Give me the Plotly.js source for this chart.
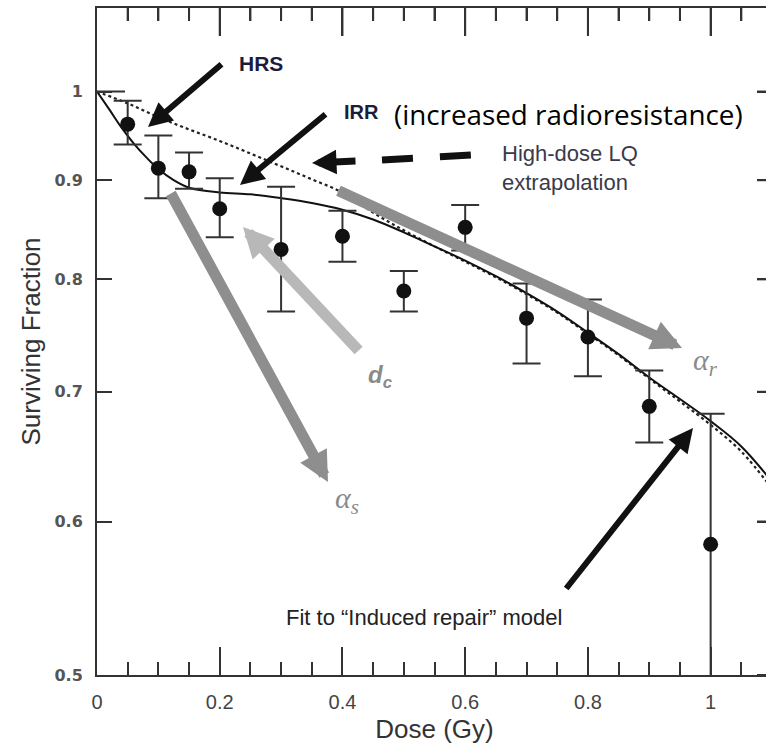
<!DOCTYPE html>
<html><head><meta charset="utf-8">
<script src="https://cdn.plot.ly/plotly-3.0.1.min.js"></script>
<style>html,body{margin:0;padding:0;overflow:hidden;background:#fff}#chart{width:773px;height:746px}</style>
</head><body><div id="chart"></div>
<script>
// ---- data ----
const doses      = [0.05, 0.1, 0.15, 0.2, 0.3, 0.4, 0.5, 0.6, 0.7, 0.8, 0.9, 1.0];
const survival   = [0.962, 0.913, 0.909, 0.870, 0.829, 0.842, 0.789, 0.851, 0.764, 0.747, 0.688, 0.584];
const errUpper   = [0.989, 0.949, 0.930, 0.902, 0.893, 0.868, 0.808, 0.874, 0.796, 0.781, 0.718, 0.682];
const errLower   = [0.939, 0.881, 0.891, 0.841, 0.770, 0.817, 0.770, 0.828, 0.724, 0.713, 0.659, 0.450];
const controlDose = [0];
const controlSurvival = [1];

const fitDose     = [0, 0.02, 0.04, 0.06, 0.08, 0.1, 0.125, 0.15, 0.2, 0.25, 0.3, 0.35, 0.4, 0.45, 0.5, 0.55, 0.6, 0.65, 0.7, 0.75, 0.8, 0.85, 0.9, 0.95, 1.0, 1.05, 1.1];
const fitSurvival = [1.000, 0.979, 0.958, 0.940, 0.925, 0.912, 0.900, 0.892, 0.887, 0.885, 0.881, 0.876, 0.869, 0.859, 0.846, 0.832, 0.818, 0.803, 0.787, 0.770, 0.751, 0.732, 0.712, 0.694, 0.676, 0.656, 0.629];

const lqDose      = [0, 0.05, 0.1, 0.15, 0.2, 0.25, 0.3, 0.35, 0.4, 0.45, 0.5, 0.55, 0.6, 0.65, 0.7, 0.75, 0.8, 0.85, 0.9, 0.95, 1.0, 1.05, 1.1];
const lqSurvival  = [1.000, 0.986, 0.970, 0.956, 0.943, 0.929, 0.915, 0.901, 0.887, 0.866, 0.848, 0.832, 0.817, 0.802, 0.786, 0.769, 0.750, 0.731, 0.711, 0.692, 0.673, 0.652, 0.624];

const yTickVals   = [0.5, 0.6, 0.7, 0.8, 0.9, 1];
const yTickText   = ['0.5', '0.6', '0.7', '0.8', '0.9', '1'];

// ---- geometry helpers (layout only) ----
const W = 773, H = 746, ML = 97, MR = 1, MT = 8, MB = 71;
const PW = W - ML - MR, PH = H - MT - MB;
const px = v => (v - ML) / PW;
const py = v => (H - MB - v) / PH;
const X_RANGE = [0, 1.1];
const Y_RANGE = [Math.log10(0.5), 0.0431];
const X_DTICK = 0.2, X_MINOR = 0.05;
const X_TICKLEN = 28, X_MINORLEN = 13, Y_TICKLEN = 15;

function arrow(tail, tip, color, width, size) {
  return {xref: 'paper', yref: 'paper', x: px(tip[0]), y: py(tip[1]),
          axref: 'pixel', ayref: 'pixel', ax: tail[0] - tip[0], ay: tail[1] - tip[1],
          showarrow: true, arrowhead: 2, arrowwidth: width, arrowsize: size,
          arrowcolor: color, text: '', standoff: 0, startstandoff: 0};
}
function label(text, cx, cy, font, anchor) {
  return {xref: 'paper', yref: 'paper', x: px(cx), y: py(cy), text: text, showarrow: false,
          xanchor: anchor || 'center', yanchor: 'middle', font: font, align: 'left'};
}

const errUp = survival.map((v, i) => errUpper[i] - v);
const errDn = survival.map((v, i) => v - errLower[i]);

const traces = [
  {x: lqDose, y: lqSurvival, type: 'scatter', mode: 'lines',
   line: {color: '#222', width: 2.2, dash: 'dot', shape: 'spline'}},
  {x: fitDose, y: fitSurvival, type: 'scatter', mode: 'lines',
   line: {color: '#111', width: 2, shape: 'spline'}},
  {x: controlDose, y: controlSurvival, type: 'scatter', mode: 'markers',
   marker: {size: 1, color: 'rgba(0,0,0,0)'},
   error_y: {type: 'data', array: [0], visible: true, color: '#333', thickness: 2, width: 28}},
  {x: doses, y: survival, type: 'scatter', mode: 'markers',
   marker: {size: 15, color: '#111'},
   error_y: {type: 'data', symmetric: false, array: errUp, arrayminus: errDn,
             visible: true, color: '#333', thickness: 2, width: 14}}
];

// mirrored frame ticks (top and right edges), derived from the axis tick specification
const frameTicks = [];
const nMinor = Math.round((X_RANGE[1] - X_RANGE[0]) / X_MINOR);
for (let k = 1; k <= nMinor; k++) {
  const xv = +(X_RANGE[0] + k * X_MINOR).toFixed(4);
  const major = (k % Math.round(X_DTICK / X_MINOR)) === 0;
  const len = major ? X_TICKLEN : X_MINORLEN;
  frameTicks.push({type: 'line', xref: 'x', yref: 'paper', x0: xv, x1: xv, y0: 1, y1: 1 - len / PH,
                   line: {color: '#333', width: 2}});
}
yTickVals.forEach(v => {
  const yp = (Math.log10(v) - Y_RANGE[0]) / (Y_RANGE[1] - Y_RANGE[0]);
  frameTicks.push({type: 'line', xref: 'paper', yref: 'paper', x0: 1, x1: 1 - Y_TICKLEN / PW, y0: yp, y1: yp,
                   line: {color: '#333', width: 2}});
});

const axisCommon = {showline: true, linecolor: '#333', linewidth: 2, mirror: 'ticks',
                    ticks: 'inside', tickcolor: '#333', tickwidth: 2,
                    showgrid: false, zeroline: false, automargin: false};

const layout = {
  width: W, height: H, margin: {l: ML, r: MR, t: MT, b: MB}, showlegend: false,
  xaxis: Object.assign({}, axisCommon, {
    range: X_RANGE, tickmode: 'linear', tick0: 0, dtick: X_DTICK, ticklen: X_TICKLEN,
    minor: {dtick: X_MINOR, tick0: 0, ticks: 'inside', ticklen: X_MINORLEN, tickcolor: '#333', tickwidth: 2},
    tickfont: {family: 'Liberation Sans, Arial, sans-serif', size: 20, color: '#444'},
    ticklabelstandoff: 8,
    title: {text: 'Dose (Gy)', font: {family: 'Liberation Sans, Arial, sans-serif', size: 26, color: '#333'}, standoff: 8}
  }),
  yaxis: Object.assign({}, axisCommon, {
    type: 'log', range: Y_RANGE, tickmode: 'array',
    tickvals: yTickVals, ticktext: yTickText, ticklen: Y_TICKLEN,
    tickfont: {family: 'DejaVu Sans, sans-serif', size: 16, color: '#555', weight: 'bold'},
    ticklabelstandoff: 9,
    title: {text: 'Surviving Fraction', font: {family: 'Liberation Sans, Arial, sans-serif', size: 26, color: '#333'}, standoff: 6}
  }),
  shapes: [
    {type: 'line', xref: 'paper', yref: 'paper', x0: px(382), y0: py(160), x1: px(473), y1: py(155),
     line: {color: '#111', width: 7, dash: '31px,27px'}}
  ].concat(frameTicks),
  annotations: [
    // gray parameter arrows
    arrow([170, 192], [328, 482], '#8e8e8e', 11, 0.55),
    arrow([360, 352], [243, 227], '#b8b8b8', 11, 0.55),
    arrow([337, 190], [682, 348], '#8e8e8e', 11, 0.55),
    // black arrows
    arrow([223, 63], [148, 127], '#111', 6, 0.8),
    arrow([327, 113], [240, 185], '#111', 6, 0.8),
    arrow([357, 161], [312, 163], '#111', 7, 0.7),
    arrow([565, 590], [693, 428], '#111', 6, 0.8),
    // labels
    label('<b>HRS</b>', 261, 64, {family: 'Liberation Sans, Arial, sans-serif', size: 21, color: '#1c1c3c'}),
    label('<b>IRR</b>', 361, 112, {family: 'Liberation Sans, Arial, sans-serif', size: 20, color: '#1c1c3c'}),
    label('(increased radioresistance)', 392, 114, {family: 'Open Sans, sans-serif', size: 27.8, color: '#000'}, 'left'),
    label('High-dose LQ<br>extrapolation', 500, 168, {family: 'Liberation Sans, Arial, sans-serif', size: 22, color: '#3a3a4a'}, 'left'),
    label('Fit to \u201cInduced repair\u201d model', 424, 617, {family: 'Liberation Sans, Arial, sans-serif', size: 22, color: '#222'}),
    label('<i>\u03b1<sub>s</sub></i>', 347, 500, {family: 'Liberation Serif, DejaVu Serif, serif', size: 30, color: '#8a8a8a'}),
    label('<i>\u03b1<sub>r</sub></i>', 705, 362, {family: 'Liberation Serif, DejaVu Serif, serif', size: 30, color: '#8a8a8a'}),
    label('<b><i>d<sub>c</sub></i></b>', 380, 376, {family: 'Liberation Sans, Arial, sans-serif', size: 24, color: '#8a8a8a'})
  ]
};

Plotly.newPlot('chart', traces, layout, {displayModeBar: false, staticPlot: true});
</script>
</body></html>
